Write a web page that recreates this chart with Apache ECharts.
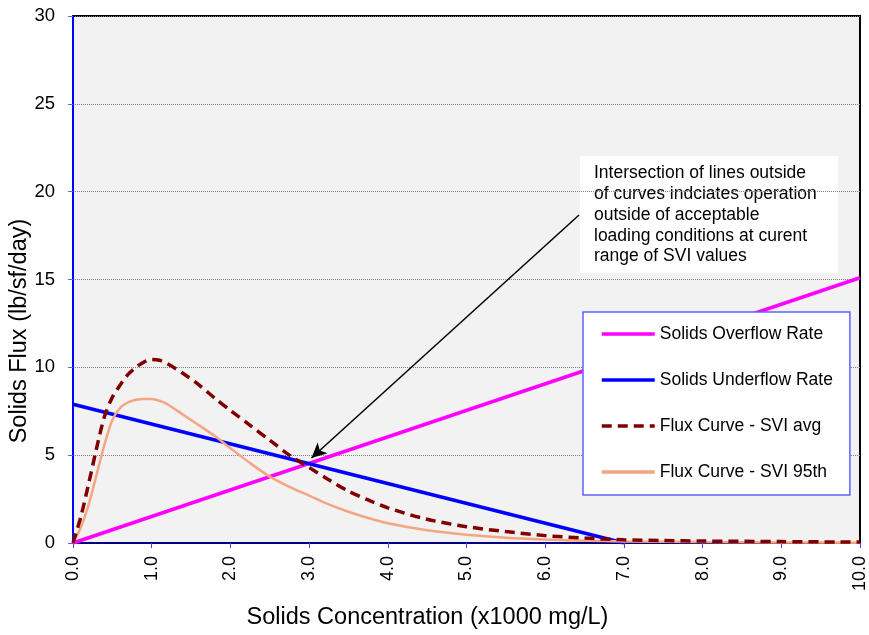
<!DOCTYPE html>
<html><head><meta charset="utf-8">
<script src="https://cdn.jsdelivr.net/npm/echarts@6/dist/echarts.min.js"></script>
<style>html,body{margin:0;padding:0;background:#fff}#c{width:869px;height:635px}</style>
</head><body><div id="c"></div>
<script>
const FONT = "'Liberation Sans', Arial, sans-serif";
const seriesNames = ["Solids Overflow Rate", "Solids Underflow Rate", "Flux Curve - SVI avg", "Flux Curve - SVI 95th"];
const overflowRate = [[0, 0], [10, 15.1]];
const underflowRate = [[0, 7.9], [7.0, 0]];
const fluxAvg = [[0,0],[0.1,1.5],[0.2,3.4],[0.3,5.4],[0.4,7.2],[0.5,8.3],[0.6,9.0],[0.7,9.6],[0.8,10.0],[0.9,10.3],[1.0,10.45],[1.1,10.4],[1.2,10.2],[1.4,9.65],[1.6,9.0],[1.8,8.25],[2.0,7.55],[2.25,6.7],[2.5,5.85],[2.75,5.0],[3.0,4.3],[3.25,3.6],[3.5,2.95],[3.75,2.45],[4.0,2.0],[4.5,1.35],[5.0,0.93],[5.5,0.65],[6.0,0.42],[6.5,0.28],[7.0,0.18],[7.5,0.14],[8.0,0.11],[9.0,0.08],[10.0,0.05]];
const flux95 = [[0,0],[0.1,0.9],[0.2,2.2],[0.3,3.9],[0.4,5.6],[0.5,7.0],[0.6,7.7],[0.7,8.0],[0.8,8.15],[0.9,8.2],[1.0,8.2],[1.1,8.1],[1.2,7.9],[1.4,7.3],[1.6,6.7],[1.8,6.1],[1.9,5.75],[2.0,5.4],[2.25,4.55],[2.5,3.78],[2.75,3.2],[3.0,2.7],[3.25,2.2],[3.5,1.78],[3.75,1.42],[4.0,1.12],[4.5,0.72],[5.0,0.47],[5.5,0.3],[6.0,0.2],[6.5,0.13],[7.0,0.09],[8.0,0.05],[9.0,0.03],[10.0,0.02]];
const xTitle = "Solids Concentration (x1000 mg/L)";
const yTitle = "Solids Flux (lb/sf/day)";
const annotationText = "Intersection of lines outside\nof curves indciates operation\noutside of acceptable\nloading conditions at curent\nrange of SVI values";
const arrowFrom = [6.43, 18.67];
const arrowTo = [3.03, 4.84];

const chart = echarts.init(document.getElementById('c'));
chart.setOption({
  animation: false,
  textStyle: {fontFamily: FONT},
  grid: {left: 73, right: 7, top: 16, bottom: 92, show: true, backgroundColor: '#f2f2f2', borderColor: '#000', borderWidth: 2},
  xAxis: {
    type: 'value', min: 0, max: 10, interval: 1,
    axisLine: {show: true, lineStyle: {color: '#000080', width: 2}},
    axisTick: {show: true, length: 5, lineStyle: {color: '#4040ff'}},
    axisLabel: {rotate: 90, fontSize: 18, color: '#000', margin: 13, formatter: v => v.toFixed(1), fontFamily: FONT},
    splitLine: {show: false}
  },
  yAxis: {
    type: 'value', min: 0, max: 30, interval: 5,
    axisLine: {show: true, lineStyle: {color: '#0000ff', width: 2}},
    axisTick: {show: true, length: 5, lineStyle: {color: '#6060ff'}},
    axisLabel: {fontSize: 18.5, color: '#000', margin: 18, fontFamily: FONT},
    splitLine: {show: true, lineStyle: {color: '#808080', type: [1, 1], width: 1}}
  },
  legend: {
    orient: 'vertical', left: 583, top: 312,
    backgroundColor: '#fff', borderColor: '#6060ff', borderWidth: 1.5,
    padding: [13, 17, 14, 17], itemGap: 28, itemWidth: 53, itemHeight: 14,
    itemStyle: {opacity: 0},
    lineStyle: {width: 3.5},
    textStyle: {fontSize: 17.5, color: '#000', fontFamily: FONT},
    data: seriesNames
  },
  graphic: [
    {type: 'group', left: 580, top: 156, children: [
      {type: 'rect', shape: {x: 0, y: 0, width: 258, height: 117}, style: {fill: '#fff'}},
      {type: 'text', x: 14, y: 7, style: {text: annotationText, fontSize: 17.5, lineHeight: 20.8, fill: '#000', fontFamily: FONT}}
    ]},
    {type: 'text', x: 427.5, y: 618, style: {text: xTitle, fontSize: 23.5, fill: '#000', fontFamily: FONT, textAlign: 'center', textVerticalAlign: 'middle'}},
    {type: 'text', x: 20, y: 331, rotation: Math.PI / 2, style: {text: yTitle, fontSize: 23.5, fill: '#000', fontFamily: FONT, textAlign: 'center', textVerticalAlign: 'middle'}}
  ],
  series: [
    {name: seriesNames[0], type: 'line', data: overflowRate, symbol: 'none', lineStyle: {color: '#ff00ff', width: 3.5}, itemStyle: {color: '#ff00ff'}, z: 2,
     markLine: {silent: true, symbol: ['none', 'arrow'], symbolSize: [11, 15], label: {show: false},
       lineStyle: {color: '#000', width: 1.5, type: 'solid'},
       data: [[{coord: arrowFrom}, {coord: arrowTo}]]}},
    {name: seriesNames[1], type: 'line', data: underflowRate, symbol: 'none', lineStyle: {color: '#0000ff', width: 3.5}, itemStyle: {color: '#0000ff'}, z: 3},
    {name: seriesNames[2], type: 'line', data: fluxAvg, symbol: 'none', smooth: 0.3, lineStyle: {color: '#800000', width: 3.5, type: [10, 6]}, itemStyle: {color: '#800000'}, z: 4},
    {name: seriesNames[3], type: 'line', data: flux95, symbol: 'none', smooth: 0.3, lineStyle: {color: '#f4a582', width: 2.5}, itemStyle: {color: '#f4a582'}, z: 3}
  ]
});
</script></body></html>
